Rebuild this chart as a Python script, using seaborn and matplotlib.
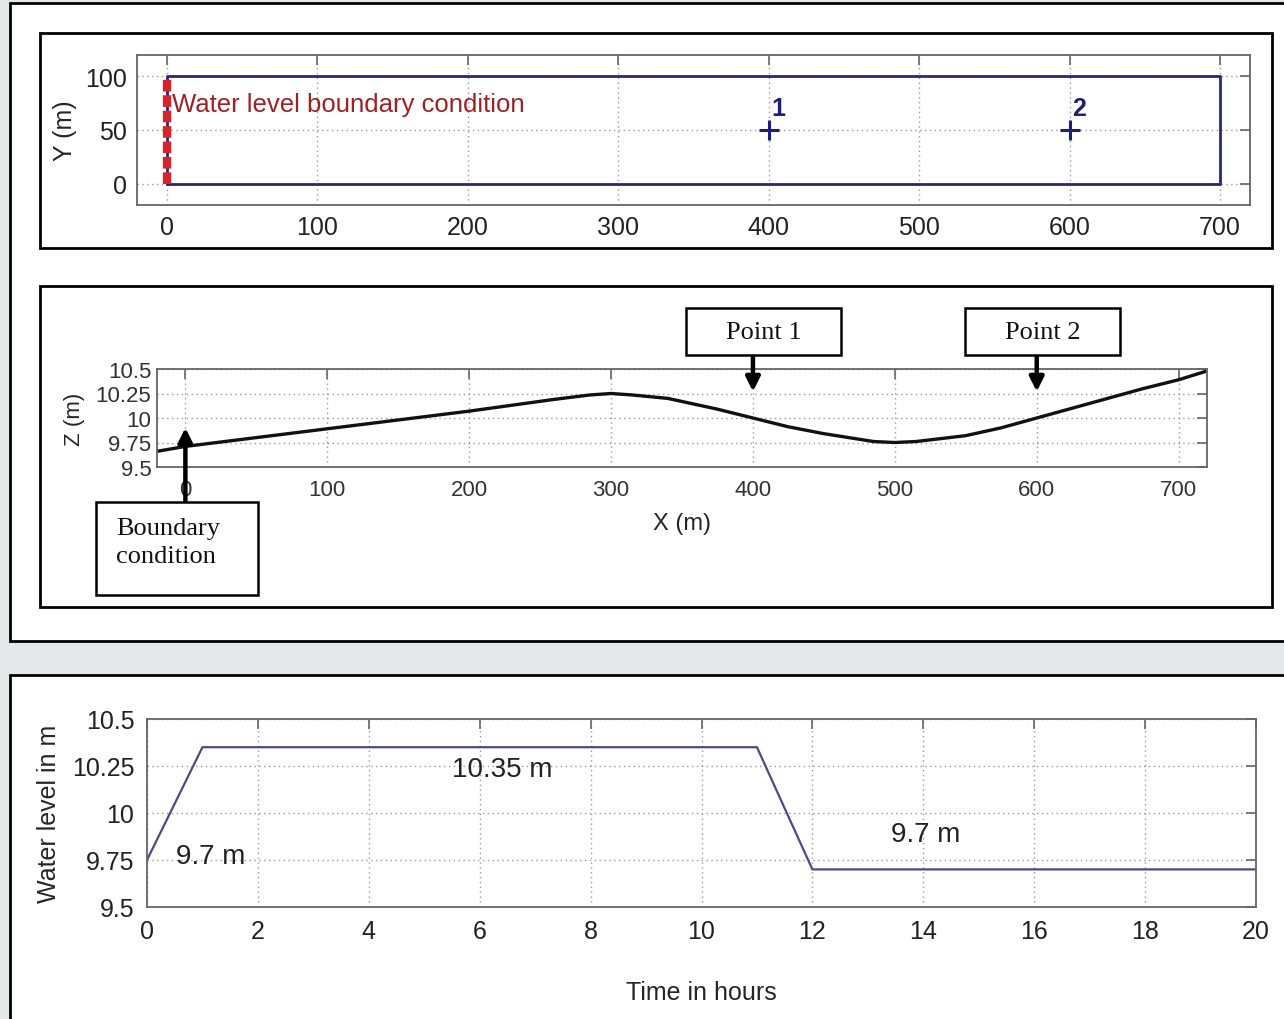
import matplotlib
matplotlib.use("Agg")
import matplotlib.pyplot as plt
from matplotlib.patches import Rectangle
import seaborn as sns
import numpy as np

# ---------------- data ----------------
# Panel 1: plan view of the channel
rect_x = [0, 700, 700, 0, 0]
rect_y = [0, 0, 100, 100, 0]
bc_x = [0, 0]
bc_y = [0, 100]
pts_x = [400, 600]
pts_y = [50, 50]
pts_labels = ["1", "2"]
p1_xticks = [0, 100, 200, 300, 400, 500, 600, 700]
p1_yticks = [0, 50, 100]

# Panel 2: bed profile
bed_x = [-20, 0, 50, 100, 150, 200, 230, 260, 285, 300, 315, 340, 375, 400, 425, 450,
         485, 500, 515, 550, 575, 600, 625, 650, 675, 700, 720]
bed_z = [9.66, 9.71, 9.80, 9.89, 9.98, 10.07, 10.13, 10.19, 10.235, 10.25, 10.235, 10.2, 10.09, 10.0, 9.91, 9.84,
         9.76, 9.75, 9.76, 9.82, 9.9, 10.0, 10.1, 10.2, 10.3, 10.39, 10.48]
p2_xticks = [0, 100, 200, 300, 400, 500, 600, 700]
p2_yticks = [9.5, 9.75, 10, 10.25, 10.5]
p2_yticklabels = ["9.5", "9.75", "10", "10.25", "10.5"]
point_names = ["Point 1", "Point 2"]
point_x = [400, 600]

# Panel 3: boundary water level hydrograph
time_h = [0, 1, 11, 12, 20]
level_m = [9.75, 10.35, 10.35, 9.7, 9.7]
p3_xticks = [0, 2, 4, 6, 8, 10, 12, 14, 16, 18, 20]
p3_yticks = [9.5, 9.75, 10, 10.25, 10.5]
p3_yticklabels = ["9.5", "9.75", "10", "10.25", "10.5"]

# ---------------- style ----------------
sns.set_theme(style="white")
plt.rcParams['font.family'] = ['Liberation Sans', 'DejaVu Sans']

W, H = 1284, 1020
fig = plt.figure(figsize=(W / 100, H / 100), dpi=100, facecolor="#e4e8e8")


def frac(x0, y0, x1, y1):
    return [x0 / W, 1 - y1 / H, (x1 - x0) / W, (y1 - y0) / H]


def box(x0, y0, x1, y1, lw=2.0, z=-1, fc="white"):
    r = Rectangle((x0 / W, 1 - y1 / H), (x1 - x0) / W, (y1 - y0) / H,
                  transform=fig.transFigure, facecolor=fc, edgecolor="black",
                  linewidth=lw, zorder=z)
    fig.add_artist(r)


# white panels
box(10, 4, 1300, 642, lw=2.0, z=-3)
box(10, 676, 1300, 1040, lw=2.0, z=-3)
box(40, 34, 1272, 249, lw=2.0, z=-2)
box(40, 287, 1272, 608, lw=2.0, z=-2)

GRID = dict(color="#9a9a9a", linestyle=(0, (1, 2.5)), linewidth=1.0)


def style_axes(ax, labelsize):
    ax.set_facecolor("white")
    for s in ax.spines.values():
        s.set_color("#666666")
        s.set_linewidth(1.3)
        s.set_visible(True)
    ax.tick_params(direction="in", top=True, right=True, length=7, width=1.2,
                   color="#666666", labelsize=labelsize, labelcolor="#222222", pad=7)
    ax.grid(True, **GRID)
    ax.set_axisbelow(True)


# ---------------- panel 1 ----------------
ax1 = fig.add_axes(frac(137, 56, 1250, 206))
style_axes(ax1, 18)
sns.lineplot(x=rect_x, y=rect_y, sort=False, estimator=None, ax=ax1,
             color="#26287a", linewidth=2.0)
sns.lineplot(x=bc_x, y=bc_y, sort=False, estimator=None, ax=ax1,
             color="#d8232a", linewidth=6, dashes=False)
ax1.lines[-1].set_dashes([1.4, 0.45])
ax1.plot(pts_x, pts_y, linestyle="none", marker="+", markersize=15,
         markeredgewidth=2.2, color="#1e1e78")
for px, py, lab in zip(pts_x, pts_y, pts_labels):
    ax1.text(px + 2, py + 9, lab, color="#1e1e78", fontsize=18,
             fontweight="bold", ha="left", va="bottom")
ax1.text(3, 74, "Water level boundary condition", color="#a02024",
         fontsize=18.5, ha="left", va="center")
ax1.set_xlim(-20, 720)
ax1.set_ylim(-20, 120)
ax1.set_xticks(p1_xticks)
ax1.set_yticks(p1_yticks)
ax1.set_ylabel("Y (m)", fontsize=18, labelpad=6)

# ---------------- panel 2 ----------------
ax2 = fig.add_axes(frac(157, 370, 1207, 468))
style_axes(ax2, 16)
ax2.tick_params(labelcolor="#333333")
ax2.tick_params(axis="y", pad=4)
ax2.tick_params(axis="x", pad=9)
sns.lineplot(x=bed_x, y=bed_z, ax=ax2, color="#111111", linewidth=2.4)
ax2.set_xlim(-20, 720)
ax2.set_ylim(9.5, 10.5)
ax2.set_xticks(p2_xticks)
ax2.set_yticks(p2_yticks)
ax2.set_yticklabels(p2_yticklabels)
ax2.set_xlabel("X (m)", fontsize=17, labelpad=8)
ax2.set_ylabel("Z (m)", fontsize=16, labelpad=8)

serif = ['Liberation Serif', 'DejaVu Serif']
# Point boxes with downward arrows
for name, px, (bx0, bx1) in zip(point_names, point_x, [(686, 841), (965, 1120)]):
    box(bx0, 309, bx1, 356, lw=1.8, z=5)
    fig.text((bx0 + bx1) / 2 / W, 1 - 333 / H, name, family=serif, fontsize=19,
             ha="center", va="center", color="#111111", zorder=6)
    ax2.annotate("", xy=(px, 10.27), xycoords="data",
                 xytext=(px, H - 356), textcoords=("data", "figure pixels"),
                 arrowprops=dict(arrowstyle="-|>,head_length=0.7,head_width=0.35",
                                 lw=3.2, color="black", shrinkA=0, shrinkB=0),
                 annotation_clip=False)

# Boundary condition box with upward arrow
box(96, 503, 258, 596, lw=1.8, z=5)
fig.text(116 / W, 1 - 518 / H, "Boundary\ncondition", family=serif, fontsize=19,
         ha="left", va="top", color="#111111", linespacing=1.35, zorder=6)
ax2.annotate("", xy=(0, 9.9), xycoords="data",
             xytext=(0, H - 503), textcoords=("data", "figure pixels"),
             arrowprops=dict(arrowstyle="-|>,head_length=0.7,head_width=0.35",
                             lw=3.2, color="black", shrinkA=0, shrinkB=0),
             annotation_clip=False)

# ---------------- panel 3 ----------------
ax3 = fig.add_axes(frac(147, 720, 1256, 908))
style_axes(ax3, 18)
ax3.tick_params(pad=9)
sns.lineplot(x=time_h, y=level_m, ax=ax3, color="#4a4c86", linewidth=1.6)
ax3.set_xlim(0, 20)
ax3.set_ylim(9.5, 10.5)
ax3.set_xticks(p3_xticks)
ax3.set_yticks(p3_yticks)
ax3.set_yticklabels(p3_yticklabels)
ax3.set_xlabel("Time in hours", fontsize=18, labelpad=26)
ax3.set_ylabel("Water level in m", fontsize=18, labelpad=8)
ax3.text(6.4, 10.235, "10.35 m", fontsize=20, ha="center", va="center", color="#222222")
ax3.text(1.15, 9.77, "9.7 m", fontsize=20, ha="center", va="center", color="#222222")
ax3.text(14.05, 9.888, "9.7 m", fontsize=20, ha="center", va="center", color="#222222")

fig.savefig("out.png", dpi=100, facecolor=fig.get_facecolor())
